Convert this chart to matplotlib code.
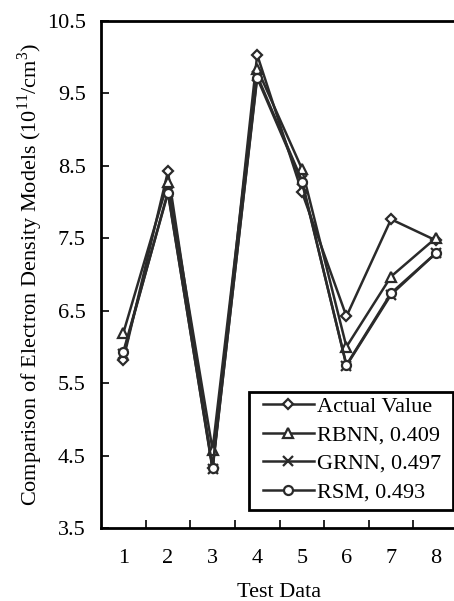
import numpy as np
import matplotlib as mpl
import matplotlib.pyplot as plt
from matplotlib.patches import Rectangle

mpl.rcParams['font.family'] = 'serif'
mpl.rcParams['font.serif'] = ['Liberation Serif', 'DejaVu Serif']
mpl.rcParams['font.size'] = 16.0
mpl.rcParams['mathtext.fontset'] = 'custom'
mpl.rcParams['mathtext.rm'] = 'Liberation Serif'

# Data
testData = [1, 2, 3, 4, 5, 6, 7, 8]
actual = [5.82, 8.42, 4.33, 10.03, 8.14, 6.42, 7.76, 7.47]
rbnn = [6.19, 8.28, 4.58, 9.84, 8.46, 6.00, 6.97, 7.50]
grnn = [5.90, 8.14, 4.31, 9.74, 8.30, 5.74, 6.72, 7.29]
rsm = [5.93, 8.12, 4.33, 9.71, 8.28, 5.75, 6.74, 7.29]

labels = ["Actual Value", "RBNN, 0.409", "GRNN, 0.497", "RSM, 0.493"]
yTicks = [3.5, 4.5, 5.5, 6.5, 7.5, 8.5, 9.5, 10.5]

fig = plt.figure(figsize=(4.54, 6.01), dpi=100)
# axes runs past the right edge, as in the original crop
ax = fig.add_axes([101/454, 73/601, 357/454, 507.3/601])

col = "#2a2a2a"
style = dict(color=col, lw=1.8, markersize=6.5, markeredgewidth=1.6,
             markerfacecolor="white", markeredgecolor=col)

ax.plot(testData, actual, marker="D", label=labels[0], **dict(style, markersize=5.5))
ax.plot(testData, rbnn, marker="^", label=labels[1], **style)
ax.plot(testData, grnn, marker="x", label=labels[2], **style)
ax.plot(testData, rsm, marker="o", label=labels[3], **style)

ax.set_xlim(0.5, 8.5)
ax.set_ylim(3.5, 10.5)
ax.set_yticks(yTicks)
ax.set_yticklabels(["%.1f" % v for v in yTicks])
ax.set_xticks(testData)
# Excel style: tick marks between categories, labels centred
ax.set_xticks(np.arange(1.5, 8.5, 1.0), minor=True)
ax.tick_params(axis="x", which="major", length=0, pad=15)
ax.tick_params(axis="x", which="minor", direction="in", length=6, width=1.2, color="black")
ax.tick_params(axis="y", direction="in", length=6, width=1.2, pad=11)

for s in ax.spines.values():
    s.set_linewidth(2.0)
    s.set_color("black")
ax.spines["right"].set_visible(False)

ax.set_xlabel("Test Data", labelpad=11)
ax.set_ylabel(r"Comparison of Electron Density Models (10$^{11}$/cm$^{3}$)", labelpad=1.5)

### Legend, square box like the original ###
ax.add_patch(Rectangle((0.4146, 0.0355), 0.571, 0.2326, transform=ax.transAxes,
                       facecolor="white", edgecolor="black", lw=2.0, zorder=4))
leg = ax.legend(loc="center", bbox_to_anchor=(0.703, 0.155), frameon=False,
                handlelength=2.3, handletextpad=0.15, numpoints=1,
                labelspacing=0.36, borderpad=0.0, borderaxespad=0.0)
leg.set_zorder(5)

fig.savefig("out.png", dpi=100)
